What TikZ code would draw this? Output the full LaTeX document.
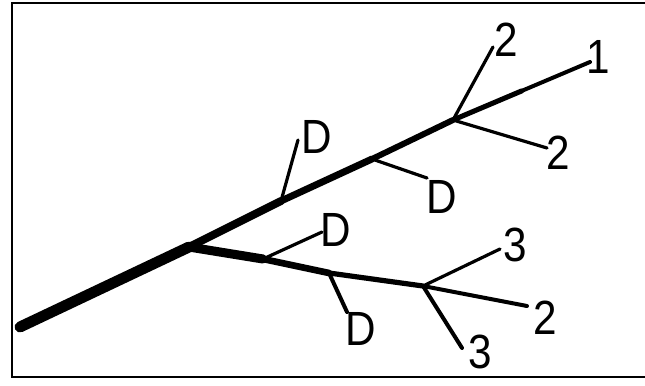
\documentclass[tikz,border=0pt]{standalone}
\usepackage{fontspec}
\setmainfont{Liberation Sans}
\usetikzlibrary{calc}
\begin{document}
\begin{tikzpicture}[x=0.75pt,y=-0.75pt,
  lbl/.style={inner sep=0pt,font=\fontsize{36}{36}\selectfont,xscale=0.88},
  twig/.style={line width=2.4pt,line cap=round},
  limb/.style={line cap=round,line join=round},
  frame/.style={line width=2.2pt}]
\useasboundingbox (0,0) rectangle (645,385);
% frame
\draw[frame] (647,3) -- (12,3) -- (12,377) -- (647,377);
% coordinates
\coordinate (s) at (20,327);
\coordinate (f) at (189,247);
\coordinate (m1) at (281,201);
\coordinate (m2) at (372,159);
\coordinate (m3) at (453,120);
\coordinate (e1) at (590,62);
\coordinate (l1) at (263,259);
\coordinate (l2) at (329,273);
\coordinate (l3) at (423,286);
\coordinate (e2b) at (527,306);
% trunk
\draw[limb,line width=8.2pt] (s) -- (f);
% main branch
\draw[limb,line width=6pt] (f) -- (m1);
\draw[limb,line width=5.2pt] (m1) -- (m2);
\draw[limb,line width=4.5pt] (m2) -- (m3);
\draw[limb,line width=3.8pt] (m3) -- ($(m3)!0.5!(e1)$) coordinate (mh);
\draw[limb,line width=3pt] (mh) -- (e1);
% lower branch
\draw[limb,line width=6.8pt] (f) -- (l1);
\draw[limb,line width=5pt] (l1) -- (l2);
\draw[limb,line width=3.9pt] (l2) -- (l3);
\draw[limb,line width=3pt] (l3) -- (e2b);
% twigs
\coordinate (t2a) at (493,47);
\coordinate (t2b) at (547,148);
\coordinate (td1) at (298,140);
\coordinate (td2) at (427,178);
\coordinate (td3) at (322,232);
\coordinate (td4) at (347,312);
\coordinate (t3a) at (500,249);
\coordinate (t3b) at (462,348);
\draw[twig] (m3) -- (t2a);
\draw[twig] (m3) -- (t2b);
\draw[twig] (m1) -- (td1);
\draw[twig] (m2) -- (td2);
\draw[twig] (l1) -- (td3);
\draw[twig,line width=3pt] (l2) -- (td4);
\draw[twig] (l3) -- (t3a);
\draw[twig,line width=3pt] (l3) -- (t3b);
% labels
\node[lbl] (n1) at (598,57) {1};
\node[lbl] (n2a) at (506,40) {2};
\node[lbl] (n2b) at (558,153) {2};
\node[lbl] (n2c) at (545,318) {2};
\node[lbl] (nd1) at (317,137) {D};
\node[lbl] (nd2) at (442,197) {D};
\node[lbl] (nd3) at (336,230) {D};
\node[lbl] (nd4) at (361,329) {D};
\node[lbl] (n3a) at (515,245) {3};
\node[lbl] (n3b) at (480,352) {3};
\end{tikzpicture}
\end{document}
